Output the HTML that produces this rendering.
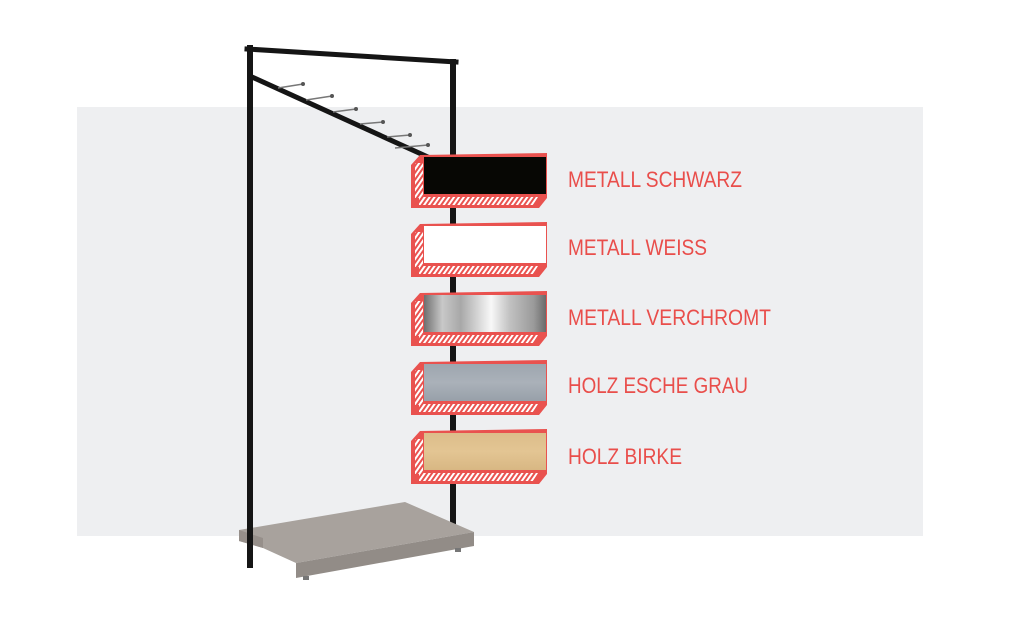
<!DOCTYPE html>
<html><head><meta charset="utf-8"><style>
html,body{margin:0;padding:0;background:#fff;}
svg{display:block;}
text{font-family:"Liberation Sans Narrow","Liberation Sans",sans-serif;fill:#e94e4b;font-size:22px;}
</style></head><body>
<svg width="1012" height="624" viewBox="0 0 1012 624" xmlns="http://www.w3.org/2000/svg">
<defs>
<pattern id="h" width="4" height="4" patternUnits="userSpaceOnUse" patternTransform="rotate(35)">
<rect width="4" height="4" fill="#e9524f"/><rect width="2" height="4" fill="#fff"/>
</pattern>
<linearGradient id="chrome" x1="0" x2="1" y1="0" y2="0">
<stop offset="0" stop-color="#6f6f6f"/><stop offset="0.15" stop-color="#c8c8c8"/><stop offset="0.3" stop-color="#a8a8a8"/><stop offset="0.55" stop-color="#f8f8f8"/><stop offset="0.7" stop-color="#c2c2c2"/><stop offset="0.9" stop-color="#9a9a9a"/><stop offset="1" stop-color="#6a6a6a"/>
</linearGradient>
<linearGradient id="ash" x1="0" x2="0" y1="0" y2="1">
<stop offset="0" stop-color="#9ea6af"/><stop offset="0.5" stop-color="#aab1b9"/><stop offset="1" stop-color="#98a0a9"/>
</linearGradient>
<linearGradient id="birch" x1="0" x2="0" y1="0" y2="1">
<stop offset="0" stop-color="#dcbd8a"/><stop offset="0.5" stop-color="#e3c593"/><stop offset="1" stop-color="#d8b783"/>
</linearGradient>
<g id="sw">
<polygon points="411,165 420,155 547,153 547,198 539,208 411,208" fill="#e9524f"/>
<rect x="415" y="163" width="8" height="35" fill="url(#h)"/>
<polygon points="419,197 538,197 533,205 419,205" fill="url(#h)"/>
</g>
</defs>
<rect x="77" y="107" width="846" height="429" fill="#eeeff1"/>
<!-- frame -->
<g stroke="#151515" fill="none" stroke-linecap="square">
<line x1="250" y1="48" x2="250" y2="565" stroke-width="6"/>
<line x1="247" y1="49" x2="456" y2="62" stroke-width="5"/>
<line x1="453" y1="62" x2="453" y2="528" stroke-width="6"/>
<line x1="252" y1="77" x2="430" y2="158" stroke-width="5"/>
</g>
<g stroke="#777" stroke-width="1.5">
<line x1="278" y1="88" x2="303" y2="84"/><line x1="306" y1="100" x2="332" y2="96"/><line x1="333" y1="112" x2="356" y2="109"/><line x1="360" y1="124" x2="383" y2="122"/><line x1="387" y1="137" x2="410" y2="135"/><line x1="395" y1="148" x2="428" y2="145"/>
</g>
<g fill="#555"><circle cx="303" cy="84" r="2"/><circle cx="332" cy="96" r="2"/><circle cx="356" cy="109" r="2"/><circle cx="383" cy="122" r="2"/><circle cx="410" cy="135" r="2"/><circle cx="428" cy="145" r="2"/></g>
<!-- base -->
<polygon points="239,530 405,502 474,532 296,563 263,548 239,541" fill="#a8a29d"/>
<polygon points="296,563 474,532 474,546 296,578" fill="#928c87"/>
<polygon points="239,530 239,541 263,548 263,538" fill="#968f8a"/>
<line x1="250" y1="520" x2="250" y2="565" stroke="#151515" stroke-width="6"/>
<rect x="303" y="576" width="6" height="4" fill="#777"/><rect x="455" y="548" width="6" height="4" fill="#777"/>
<!-- swatches -->
<use href="#sw"/>
<rect x="424" y="157" width="122" height="37" fill="#070704"/>
<use href="#sw" transform="translate(0,69)"/>
<rect x="424" y="226" width="122" height="37" fill="#fff"/>
<use href="#sw" transform="translate(0,138)"/>
<rect x="424" y="295" width="122" height="37" fill="url(#chrome)"/>
<use href="#sw" transform="translate(0,207)"/>
<rect x="424" y="364" width="122" height="37" fill="url(#ash)"/>
<use href="#sw" transform="translate(0,276)"/>
<rect x="424" y="433" width="122" height="37" fill="url(#birch)"/>
<text x="568" y="187" textLength="174" lengthAdjust="spacingAndGlyphs">METALL SCHWARZ</text>
<text x="568" y="255" textLength="139" lengthAdjust="spacingAndGlyphs">METALL WEISS</text>
<text x="568" y="325" textLength="203" lengthAdjust="spacingAndGlyphs">METALL VERCHROMT</text>
<text x="568" y="393" textLength="180" lengthAdjust="spacingAndGlyphs">HOLZ ESCHE GRAU</text>
<text x="568" y="464" textLength="114" lengthAdjust="spacingAndGlyphs">HOLZ BIRKE</text>
</svg>
</body></html>
